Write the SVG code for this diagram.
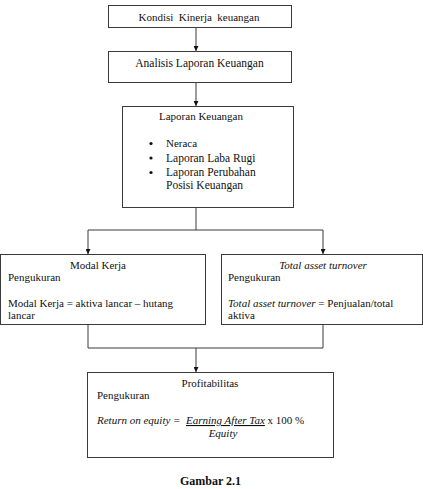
<svg xmlns="http://www.w3.org/2000/svg" width="423" height="489" viewBox="0 0 423 489">
<style>
.box{fill:#fff;stroke:#3a3a3a;stroke-width:1}
.ln{fill:none;stroke:#3a3a3a;stroke-width:1}
text{font-family:"Liberation Serif","Times New Roman",serif;font-size:11px;fill:#111}
.c{text-anchor:middle}
.i{font-style:italic}
.cap{font-weight:bold;font-size:12px}
</style>
<defs>
<marker id="ah" viewBox="0 0 10 10" refX="10" refY="5" markerWidth="5" markerHeight="5" orient="auto" markerUnits="userSpaceOnUse">
<path d="M0,0 L10,5 L0,10 z" fill="#111"/>
</marker>
</defs>
<rect width="423" height="489" fill="#fff"/>
<g id="connectors">
<line class="ln" x1="196" y1="28" x2="196" y2="51" marker-end="url(#ah)"/>
<line class="ln" x1="196" y1="82" x2="196" y2="106" marker-end="url(#ah)"/>
<polyline class="ln" points="196,207 196,230"/>
<polyline class="ln" points="88,230 323,230"/>
<line class="ln" x1="88" y1="230" x2="88" y2="254" marker-end="url(#ah)"/>
<line class="ln" x1="323" y1="230" x2="323" y2="254" marker-end="url(#ah)"/>
<polyline class="ln" points="88,324 88,348 323,348 323,324"/>
<line class="ln" x1="196" y1="348" x2="196" y2="372" marker-end="url(#ah)"/>
</g>
<g id="kondisi">
<rect class="box" x="108.5" y="5.5" width="183" height="22"/>
<text class="c" x="199" y="20.5" xml:space="preserve">Kondisi  Kinerja  keuangan</text>
</g>
<g id="analisis">
<rect class="box" x="108.5" y="51.5" width="183" height="31"/>
<text class="c" x="199.5" y="66.5" style="font-size:11.5px">Analisis Laporan Keuangan</text>
</g>
<g id="laporan">
<rect class="box" x="122.5" y="106.5" width="171" height="101"/>
<text class="c" x="201" y="120">Laporan Keuangan</text>
<circle cx="151" cy="143.5" r="1.6" fill="#111"/>
<text x="166" y="147">Neraca</text>
<circle cx="151" cy="158" r="1.6" fill="#111"/>
<text x="166" y="161.5" style="font-size:11.5px">Laporan Laba Rugi</text>
<circle cx="151" cy="172.5" r="1.6" fill="#111"/>
<text x="166" y="176" style="font-size:11.5px">Laporan Perubahan</text>
<text x="166" y="188.5" style="font-size:11.5px">Posisi Keuangan</text>
</g>
<g id="modal">
<rect class="box" x="0.5" y="254.5" width="205" height="70"/>
<text class="c" x="98" y="268.5">Modal Kerja</text>
<text x="8" y="281">Pengukuran</text>
<text x="8" y="307">Modal Kerja = aktiva lancar – hutang</text>
<text x="8" y="319">lancar</text>
</g>
<g id="tato">
<rect class="box" x="221.5" y="254.5" width="201" height="70"/>
<text class="c i" x="323" y="268.5">Total asset turnover</text>
<text x="228" y="281">Pengukuran</text>
<text x="228" y="307"><tspan class="i">Total asset turnover</tspan> = Penjualan/total</text>
<text x="228" y="319">aktiva</text>
</g>
<g id="profit">
<rect class="box" x="87.5" y="372.5" width="246" height="85"/>
<text class="c" x="210" y="387">Profitabilitas</text>
<text x="97" y="399">Pengukuran</text>
<text x="97" y="424" xml:space="preserve"><tspan class="i">Return on equity =  </tspan><tspan class="i" text-decoration="underline">Earning After Tax</tspan> x 100 %</text>
<text class="c i" x="223" y="436.5">Equity</text>
</g>
<g id="caption">
<text class="c cap" x="210.5" y="485">Gambar 2.1</text>
</g>
</svg>
